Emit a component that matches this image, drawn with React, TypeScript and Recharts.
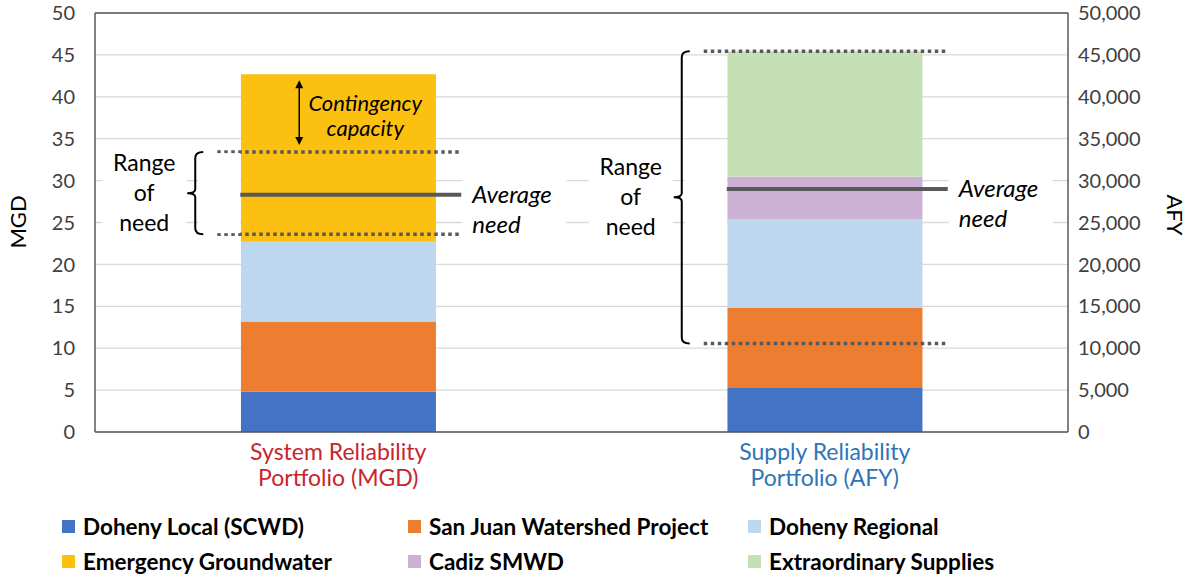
import React from 'react';
import { BarChart, Bar, XAxis, YAxis, CartesianGrid, ReferenceLine } from 'recharts';

const categories = ['System Reliability Portfolio (MGD)', 'Supply Reliability Portfolio (AFY)'];
const categoryLines = [
  ['System Reliability', 'Portfolio (MGD)'],
  ['Supply Reliability', 'Portfolio (AFY)'],
];
const categoryColors = ['#C8252C', '#2E75B6'];

const sourceKeys = ['local', 'sanJuan', 'regional', 'emergency', 'cadiz', 'extraordinary'];
const sourceNames = [
  'Doheny Local (SCWD)',
  'San Juan Watershed Project',
  'Doheny Regional',
  'Emergency Groundwater',
  'Cadiz SMWD',
  'Extraordinary Supplies',
];
const sourceColors = ['#4472C4', '#ED7D31', '#BDD7EE', '#FCC010', '#CDB1D4', '#C5E0B4'];

// same order as sourceKeys
const systemMGD = [4.8, 8.4, 9.5, 20.0, 0, 0];
const supplyAFY = [5250, 9600, 10550, 0, 5100, 14950];

// low, average, high
const systemNeed = [23.6, 28.3, 33.4];
const supplyNeed = [10550, 29000, 45450];

const mgdTicks = [0, 5, 10, 15, 20, 25, 30, 35, 40, 45, 50];
const afyTicks = [0, 5000, 10000, 15000, 20000, 25000, 30000, 35000, 40000, 45000, 50000];

const systemSeries = [0, 1, 2, 3];
const supplySeries = [0, 1, 2, 4, 5];

const chartData = categories.map((name, i) => {
  const row: any = { name };
  sourceKeys.forEach((k, j) => {
    row['m_' + k] = i === 0 ? systemMGD[j] : null;
    row['a_' + k] = i === 1 ? supplyAFY[j] : null;
  });
  return row;
});

const systemTop = systemMGD.reduce((a, b) => a + b, 0);

const GRAY = '#595959';
const FONT = 'Lato, sans-serif';

const CategoryTick = (props: any) => {
  const { x, y, payload } = props;
  const i = categories.indexOf(payload.value);
  return (
    <text x={x} y={y} textAnchor="middle" fill={categoryColors[i]} fontSize={23} fontFamily={FONT}>
      <tspan x={x} dy={20}>{categoryLines[i][0]}</tspan>
      <tspan x={x} dy={26}>{categoryLines[i][1]}</tspan>
    </text>
  );
};

// horizontal need line, drawn across the bar
const needLine = (dotted: boolean) => (p: any) => (
  <line
    x1={p.x1 - 121}
    x2={p.x1 + 123}
    y1={p.y1}
    y2={p.y1}
    stroke={GRAY}
    strokeWidth={dotted ? 3.5 : 4}
    strokeDasharray={dotted ? '3.5 3.5' : undefined}
  />
);

const averageLine = (p: any) => {
  const tx = p.x1 + 134;
  return (
    <g>
      <rect x={tx - 10} y={p.y1 - 20} width={104} height={60} fill="#fff" />
      <line x1={p.x1 - 121} x2={p.x1 + 123} y1={p.y1} y2={p.y1} stroke={GRAY} strokeWidth={4} />
      <text x={tx} y={p.y1} dy="0.35em" fontSize={24} fontStyle="italic" fontFamily={FONT} fill="#000">Average</text>
      <text x={tx} y={p.y1 + 30} dy="0.35em" fontSize={24} fontStyle="italic" fontFamily={FONT} fill="#000">need</text>
    </g>
  );
};

const rangeBracket = (p: any) => {
  const x = p.x1 - 143;
  const top = Math.min(p.y1, p.y2);
  const bot = Math.max(p.y1, p.y2);
  const mid = (top + bot) / 2;
  const d = `M ${x + 8} ${top} Q ${x} ${top} ${x} ${top + 6} L ${x} ${mid - 4} Q ${x} ${mid} ${x - 8} ${mid} Q ${x} ${mid} ${x} ${mid + 4} L ${x} ${bot - 6} Q ${x} ${bot} ${x + 8} ${bot}`;
  const tx = x - 51;
  return (
    <g>
      <rect x={tx - 42} y={mid - 48} width={84} height={96} fill="#fff" />
      <rect x={x + 3} y={mid - 40} width={42} height={80} fill="#fff" />
      <path d={d} fill="none" stroke="#000" strokeWidth={2} />
      {['Range', 'of', 'need'].map((w, i) => (
        <text key={w} x={tx} y={mid + (i - 1) * 30} dy="0.35em" textAnchor="middle" fontSize={23} fontFamily={FONT} fill="#000">
          {w}
        </text>
      ))}
    </g>
  );
};

const contingencyArrow = (p: any) => {
  const x = p.x1 - 39;
  const top = Math.min(p.y1, p.y2) + 6;
  const bot = Math.max(p.y1, p.y2) - 7;
  const tx = p.x1 + 27;
  return (
    <g>
      <line x1={x} x2={x} y1={top + 6} y2={bot - 6} stroke="#000" strokeWidth={1.5} />
      <path d={`M ${x} ${top} L ${x - 4} ${top + 8} L ${x + 4} ${top + 8} Z`} fill="#000" />
      <path d={`M ${x} ${bot} L ${x - 4} ${bot - 8} L ${x + 4} ${bot - 8} Z`} fill="#000" />
      <text x={tx} y={top + 23} dy="0.35em" textAnchor="middle" fontSize={22} fontStyle="italic" fontFamily={FONT} fill="#000">Contingency</text>
      <text x={tx} y={top + 48} dy="0.35em" textAnchor="middle" fontSize={22} fontStyle="italic" fontFamily={FONT} fill="#000">capacity</text>
    </g>
  );
};

const at = (cat: string, y: number) => ({ x: cat, y });

export default function App() {
  return (
    <div style={{ position: 'absolute', left: 0, top: 0, width: 1190, height: 575, background: '#fff', fontFamily: FONT }}>
      <BarChart
        width={1190}
        height={500}
        data={chartData}
        margin={{ top: 13, right: 47, bottom: 8, left: 35 }}
        barCategoryGap="30%"
      >
        <CartesianGrid xAxisId="a" yAxisId="mgd" vertical={false} stroke="#D9D9D9" strokeWidth={1.3} />
        <XAxis
          xAxisId="a"
          dataKey="name"
          height={60}
          interval={0}
          tickLine={false}
          axisLine={{ stroke: GRAY, strokeWidth: 1.5 }}
          tick={<CategoryTick />}
        />
        <XAxis xAxisId="b" dataKey="name" hide />
        <YAxis
          yAxisId="mgd"
          width={60}
          domain={[0, 50]}
          ticks={mgdTicks}
          interval={0}
          tickLine={false}
          tickMargin={14}
          axisLine={{ stroke: GRAY, strokeWidth: 1.5 }}
          tick={{ fontSize: 20, fill: '#404040', fontFamily: FONT }}
        />
        <YAxis
          yAxisId="afy"
          orientation="right"
          width={75}
          domain={[0, 50000]}
          ticks={afyTicks}
          interval={0}
          tickLine={false}
          tickMargin={4}
          tickFormatter={(v: number) => v.toLocaleString('en-US')}
          axisLine={{ stroke: GRAY, strokeWidth: 1.5 }}
          tick={{ fontSize: 20, fill: '#404040', fontFamily: FONT, textAnchor: 'start' }}
        />
        <ReferenceLine xAxisId="a" yAxisId="mgd" y={50} stroke={GRAY} strokeWidth={1.5} />

        {systemSeries.map((j) => (
          <Bar
            key={'m' + j}
            xAxisId="a"
            yAxisId="mgd"
            stackId="m"
            dataKey={'m_' + sourceKeys[j]}
            name={sourceNames[j]}
            fill={sourceColors[j]}
            isAnimationActive={false}
          />
        ))}
        {supplySeries.map((j) => (
          <Bar
            key={'a' + j}
            xAxisId="b"
            yAxisId="afy"
            stackId="a"
            dataKey={'a_' + sourceKeys[j]}
            name={sourceNames[j]}
            fill={sourceColors[j]}
            isAnimationActive={false}
          />
        ))}

        {/* system reliability annotations */}
        <ReferenceLine xAxisId="a" yAxisId="mgd" segment={[at(categories[0], systemNeed[0]), at(categories[0], systemNeed[0])]} shape={needLine(true)} />
        <ReferenceLine xAxisId="a" yAxisId="mgd" segment={[at(categories[0], systemNeed[2]), at(categories[0], systemNeed[2])]} shape={needLine(true)} />
        <ReferenceLine xAxisId="a" yAxisId="mgd" segment={[at(categories[0], systemNeed[1]), at(categories[0], systemNeed[1])]} shape={averageLine} />
        <ReferenceLine xAxisId="a" yAxisId="mgd" segment={[at(categories[0], systemNeed[0]), at(categories[0], systemNeed[2])]} shape={rangeBracket} />
        <ReferenceLine xAxisId="a" yAxisId="mgd" segment={[at(categories[0], systemNeed[2]), at(categories[0], systemTop)]} shape={contingencyArrow} />

        {/* supply reliability annotations */}
        <ReferenceLine xAxisId="b" yAxisId="afy" segment={[at(categories[1], supplyNeed[0]), at(categories[1], supplyNeed[0])]} shape={needLine(true)} />
        <ReferenceLine xAxisId="b" yAxisId="afy" segment={[at(categories[1], supplyNeed[2]), at(categories[1], supplyNeed[2])]} shape={needLine(true)} />
        <ReferenceLine xAxisId="b" yAxisId="afy" segment={[at(categories[1], supplyNeed[1]), at(categories[1], supplyNeed[1])]} shape={averageLine} />
        <ReferenceLine xAxisId="b" yAxisId="afy" segment={[at(categories[1], supplyNeed[0]), at(categories[1], supplyNeed[2])]} shape={rangeBracket} />
      </BarChart>

      <div style={{ position: 'absolute', left: 17, top: 222, transform: 'translate(-50%, -50%) rotate(-90deg)', fontSize: 22, color: '#000', whiteSpace: 'nowrap' }}>
        MGD
      </div>
      <div style={{ position: 'absolute', left: 1175, top: 215, transform: 'translate(-50%, -50%) rotate(90deg)', fontSize: 22, color: '#000', whiteSpace: 'nowrap' }}>
        AFY
      </div>

      {sourceNames.map((n, i) => {
        const col = i % 3;
        const row = Math.floor(i / 3);
        const left = [62, 408, 748][col];
        const top = [526, 561][row];
        return (
          <div key={n} style={{ position: 'absolute', left, top: top - 14, height: 28, display: 'flex', alignItems: 'center', whiteSpace: 'nowrap' }}>
            <span style={{ display: 'inline-block', width: 13, height: 13, background: sourceColors[i], marginRight: 8 }} />
            <span style={{ fontSize: 22.5, fontWeight: 700, color: '#000' }}>{n}</span>
          </div>
        );
      })}
    </div>
  );
}
